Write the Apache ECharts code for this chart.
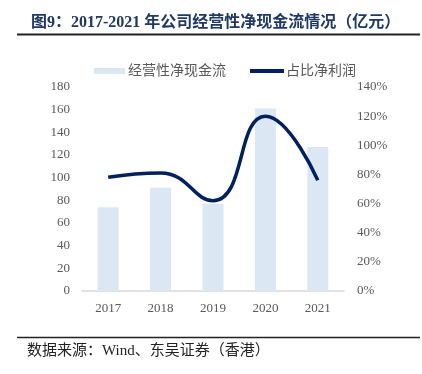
<!DOCTYPE html>
<html><head><meta charset="utf-8">
<script src="https://cdn.jsdelivr.net/npm/echarts@6/dist/echarts.min.js"></script>
<style>html,body{margin:0;padding:0;background:#fff}#c{width:422px;height:374px}</style>
</head><body><div id="c"></div>
<script>
var categories = ['2017', '2018', '2019', '2020', '2021'];
var cashFlow = [74, 91, 77, 161, 127];
var ratioPct = [78, 81, 62, 120, 76];
var leftTicks = {min: 0, max: 180, interval: 20};
var rightTicks = {min: 0, max: 140, interval: 20};
var titleText = '图9：2017-2021 年公司经营性净现金流情况（亿元）';
var sourceText = '数据来源：Wind、东吴证券（香港）';
var barName = '经营性净现金流';
var lineName = '占比净利润';

var serif = '"Liberation Serif", "Times New Roman", "Noto Sans CJK SC", serif';
var chart = echarts.init(document.getElementById('c'), null, {renderer: 'canvas'});
chart.setOption({
  animation: false,
  title: {
    text: titleText, left: 26, top: 10,
    textStyle: {fontFamily: serif, fontSize: 16, fontWeight: 'bold', color: '#1f3864'}
  },
  legend: [
    {data: [barName], left: 89, top: 59, itemWidth: 31, itemHeight: 6, icon: 'rect', itemGap: 0,
     textStyle: {fontFamily: serif, fontSize: 14, color: '#595959', padding: [0, 0, 0, -2]}},
    {data: [lineName], left: 245, top: 59, itemWidth: 34, itemHeight: 4, icon: 'rect', itemGap: 0,
     textStyle: {fontFamily: serif, fontSize: 14, color: '#595959', padding: [0, 0, 0, -3]}}
  ],
  grid: {left: 82, right: 78, top: 87, bottom: 83, containLabel: false},
  xAxis: {
    type: 'category', data: categories,
    axisLine: {lineStyle: {color: '#d9d9d9', width: 1.5}},
    axisTick: {show: false},
    axisLabel: {fontFamily: serif, fontSize: 13, color: '#595959', margin: 11}
  },
  yAxis: [
    {type: 'value', min: leftTicks.min, max: leftTicks.max, interval: leftTicks.interval,
     axisLine: {show: false}, axisTick: {show: false}, splitLine: {show: false},
     axisLabel: {fontFamily: serif, fontSize: 13, color: '#595959', margin: 12}},
    {type: 'value', min: rightTicks.min, max: rightTicks.max, interval: rightTicks.interval,
     axisLine: {show: false}, axisTick: {show: false}, splitLine: {show: false},
     axisLabel: {fontFamily: serif, fontSize: 13, color: '#595959', margin: 13, formatter: '{value}%'}}
  ],
  series: [
    {name: barName, type: 'bar', data: cashFlow, yAxisIndex: 0, barWidth: '40%',
     itemStyle: {color: '#dce7f4'}},
    {name: lineName, type: 'line', data: ratioPct, yAxisIndex: 1, smooth: 0.5,
     symbol: 'none', lineStyle: {color: '#002060', width: 3.5}, itemStyle: {color: '#002060'}}
  ],
  graphic: [
    {type: 'line', shape: {x1: 17, y1: 34.5, x2: 420, y2: 34.5}, style: {stroke: '#222', lineWidth: 2}},
    {type: 'line', shape: {x1: 17, y1: 337.5, x2: 420, y2: 337.5}, style: {stroke: '#222', lineWidth: 1.5}},
    {type: 'text', left: 27, top: 344, style: {text: sourceText, font: '15px ' + serif, fill: '#222'}}
  ]
});
</script></body></html>
